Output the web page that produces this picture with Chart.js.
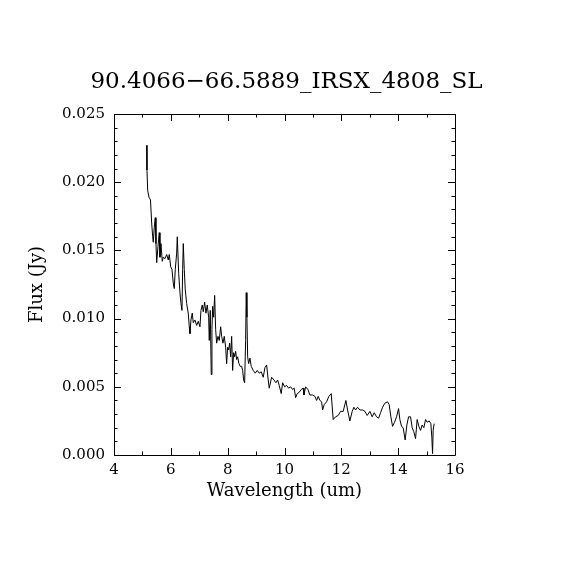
<!DOCTYPE html>
<html lang="en">
  <head>
    <meta charset="UTF-8">
    <title>90.4066-66.5889_IRSX_4808_SL</title>
    <style>
      html, body { margin: 0; padding: 0; background: #fff; }
      canvas { display: block; }
    </style>
  </head>
  <body>
    <canvas id="myChart" width="570" height="570"></canvas>

    <script src="https://cdn.jsdelivr.net/npm/chart.js"></script>
    <script>
      const TITLE = "90.4066\u221266.5889_IRSX_4808_SL";
      const X_LABEL = "Wavelength (um)";
      const Y_LABEL = "Flux (Jy)";

      // wavelength (um) and flux (Jy)
      const wavelength = [
        5.150, 5.160, 5.185, 5.231, 5.284, 5.326, 5.361, 5.382, 5.418, 5.453,
        5.477, 5.502, 5.548, 5.593, 5.618, 5.653, 5.699, 5.734, 5.794, 5.854,
        5.910, 5.945, 5.994, 6.040, 6.086, 6.121, 6.156, 6.205, 6.227, 6.276,
        6.321, 6.357, 6.392, 6.416, 6.438, 6.473, 6.508, 6.557, 6.613, 6.649,
        6.673, 6.708, 6.754, 6.789, 6.849, 6.909, 6.965, 7.025, 7.060, 7.106,
        7.141, 7.190, 7.236, 7.282, 7.331, 7.352, 7.387, 7.422, 7.447, 7.472,
        7.507, 7.542, 7.577, 7.612, 7.658, 7.704, 7.753, 7.788, 7.834, 7.880,
        7.929, 7.964, 7.999, 8.034, 8.070, 8.105, 8.140, 8.175, 8.210, 8.246,
        8.281, 8.316, 8.351, 8.397, 8.442, 8.492, 8.527, 8.562, 8.597, 8.632,
        8.653, 8.678, 8.703, 8.738, 8.784, 8.829, 8.900, 8.970, 9.040, 9.111,
        9.181, 9.252, 9.311, 9.371, 9.427, 9.463, 9.547, 9.628, 9.698, 9.758,
        9.814, 9.885, 9.934, 10.004, 10.075, 10.145, 10.215, 10.286, 10.342, 10.391,
        10.447, 10.518, 10.588, 10.658, 10.683, 10.743, 10.824, 10.894, 10.989, 11.070,
        11.130, 11.186, 11.246, 11.306, 11.341, 11.397, 11.482, 11.562, 11.643, 11.714,
        11.798, 11.890, 11.974, 12.066, 12.160, 12.220, 12.301, 12.382, 12.442, 12.502,
        12.572, 12.653, 12.748, 12.829, 12.910, 13.005, 13.085, 13.156, 13.240, 13.311,
        13.381, 13.451, 13.532, 13.627, 13.683, 13.743, 13.803, 13.873, 13.944, 14.014,
        14.060, 14.120, 14.176, 14.246, 14.306, 14.366, 14.436, 14.493, 14.552, 14.612,
        14.668, 14.728, 14.788, 14.844, 14.904, 14.964, 15.020, 15.090, 15.150, 15.185,
        15.210, 15.231, 15.266
      ];
      const flux = [
        0.0227, 0.0209, 0.0194, 0.0189, 0.0187, 0.0170, 0.0160, 0.0156, 0.0167, 0.0174,
        0.0155, 0.0141, 0.0153, 0.0163, 0.0145, 0.0155, 0.0142, 0.0145, 0.0144, 0.0147,
        0.0143, 0.0147, 0.0138, 0.0136, 0.0126, 0.0122, 0.0136, 0.0148, 0.0160, 0.0133,
        0.0119, 0.0111, 0.0106, 0.0136, 0.0155, 0.0136, 0.0121, 0.0111, 0.0104, 0.0094,
        0.0089, 0.0099, 0.0104, 0.0097, 0.0099, 0.0095, 0.0098, 0.0094, 0.0106, 0.0110,
        0.0105, 0.0112, 0.0104, 0.0110, 0.0101, 0.0084, 0.0106, 0.0059, 0.0092, 0.0109,
        0.0101, 0.0117, 0.0092, 0.0082, 0.0087, 0.0084, 0.0094, 0.0087, 0.0082, 0.0087,
        0.0079, 0.0067, 0.0079, 0.0077, 0.0082, 0.0072, 0.0087, 0.0062, 0.0075, 0.0072,
        0.0076, 0.0070, 0.0072, 0.0067, 0.0065, 0.0065, 0.0062, 0.0055, 0.0053, 0.0084,
        0.0119, 0.0101, 0.0072, 0.0067, 0.0071, 0.0065, 0.0062, 0.0060, 0.0062, 0.0060,
        0.0061, 0.0057, 0.0064, 0.0066, 0.0055, 0.0049, 0.0057, 0.0055, 0.0053, 0.0055,
        0.0051, 0.0045, 0.0053, 0.0050, 0.0051, 0.0049, 0.0050, 0.0048, 0.0049, 0.0042,
        0.0045, 0.0046, 0.0048, 0.0049, 0.0044, 0.0050, 0.0048, 0.0044, 0.0044, 0.0043,
        0.0040, 0.0043, 0.0040, 0.0039, 0.0033, 0.0037, 0.0039, 0.0043, 0.0045, 0.0026,
        0.0028, 0.0029, 0.0032, 0.0032, 0.0040, 0.0033, 0.0025, 0.0032, 0.0035, 0.0033,
        0.0035, 0.0033, 0.0033, 0.0032, 0.0029, 0.0032, 0.0028, 0.0031, 0.0028, 0.0027,
        0.0031, 0.0035, 0.0038, 0.0039, 0.0037, 0.0028, 0.0021, 0.0024, 0.0028, 0.0034,
        0.0026, 0.0021, 0.0020, 0.0011, 0.0022, 0.0028, 0.0028, 0.0020, 0.0017, 0.0012,
        0.0026, 0.0021, 0.0018, 0.0022, 0.0020, 0.0026, 0.0024, 0.0025, 0.0023, 0.0013,
        0.0001, 0.0018, 0.0023
      ];

      const X_MIN = 4, X_MAX = 16, X_STEP = 2, X_MINOR = 1;
      const Y_MIN = 0, Y_MAX = 0.025, Y_STEP = 0.005, Y_MINOR = 0.001;

      const SERIF = "'DejaVu Serif', 'Liberation Serif', serif";

      // IDL-style box with inward ticks on all four sides
      const frameTicks = {
        id: "frameTicks",
        afterDatasetsDraw(chart) {
          const { ctx, chartArea: a, scales: { x, y } } = chart;
          ctx.save();
          ctx.strokeStyle = "#000";
          ctx.lineWidth = 1;
          ctx.beginPath();
          ctx.rect(Math.round(a.left) + 0.5, Math.round(a.top) + 0.5,
                   Math.round(a.right - a.left), Math.round(a.bottom - a.top));
          const nx = Math.round((X_MAX - X_MIN) / X_MINOR);
          for (let i = 0; i <= nx; i++) {
            const v = X_MIN + i * X_MINOR;
            const px = Math.round(x.getPixelForValue(v)) + 0.5;
            const len = (i % Math.round(X_STEP / X_MINOR) === 0) ? 7 : 3.5;
            ctx.moveTo(px, a.bottom); ctx.lineTo(px, a.bottom - len);
            ctx.moveTo(px, a.top); ctx.lineTo(px, a.top + len);
          }
          const ny = Math.round((Y_MAX - Y_MIN) / Y_MINOR);
          for (let i = 0; i <= ny; i++) {
            const v = Y_MIN + i * Y_MINOR;
            const py = Math.round(y.getPixelForValue(v)) + 0.5;
            const len = (i % Math.round(Y_STEP / Y_MINOR) === 0) ? 7 : 3.5;
            ctx.moveTo(a.left, py); ctx.lineTo(a.left + len, py);
            ctx.moveTo(a.right, py); ctx.lineTo(a.right - len, py);
          }
          ctx.stroke();
          ctx.restore();
        }
      };

      const whiteBg = {
        id: "whiteBg",
        beforeDraw(chart) {
          const ctx = chart.ctx;
          ctx.save();
          ctx.fillStyle = "#fff";
          ctx.fillRect(0, 0, chart.width, chart.height);
          ctx.restore();
        }
      };

      document.addEventListener("DOMContentLoaded", function () {
        Chart.defaults.color = "#000";
        Chart.defaults.font.family = SERIF;

        const points = wavelength.map((w, i) => ({ x: w, y: flux[i] }));
        const ctx = document.getElementById("myChart").getContext("2d");
        new Chart(ctx, {
          type: "scatter",
          data: {
            datasets: [{
              data: points,
              showLine: true,
              borderColor: "#000",
              borderWidth: 1,
              pointRadius: 0,
              tension: 0,
              fill: false
            }]
          },
          options: {
            responsive: false,
            animation: false,
            layout: { padding: { left: 23, right: 20, top: 0, bottom: 65 } },
            plugins: {
              legend: { display: false },
              tooltip: { enabled: false },
              title: {
                display: true,
                text: TITLE,
                font: { family: SERIF, size: 23, weight: "normal" },
                padding: { top: 68, bottom: 18.4 }
              }
            },
            scales: {
              x: {
                type: "linear",
                min: X_MIN,
                max: X_MAX,
                grid: { display: false, drawTicks: false },
                border: { display: false },
                ticks: {
                  stepSize: X_STEP,
                  padding: 6,
                  font: { size: 15 },
                  callback: (v) => String(v)
                },
                title: {
                  display: true,
                  text: X_LABEL,
                  font: { size: 18 },
                  padding: { top: 4, bottom: 3 }
                },
                afterFit(scale) { scale.height = 50; }
              },
              y: {
                type: "linear",
                min: Y_MIN,
                max: Y_MAX,
                grid: { display: false, drawTicks: false },
                border: { display: false },
                ticks: {
                  stepSize: Y_STEP,
                  padding: 9,
                  font: { size: 15 },
                  callback: (v) => v.toFixed(3)
                },
                title: {
                  display: true,
                  text: Y_LABEL,
                  font: { size: 18 },
                  padding: { top: 4, bottom: 4 }
                },
                afterFit(scale) { scale.width = 91; }
              },
              // empty right-hand axis so the plot box sits where the original has it
              y2: {
                type: "linear",
                position: "right",
                min: Y_MIN,
                max: Y_MAX,
                grid: { display: false, drawTicks: false },
                border: { display: false },
                ticks: { display: false },
                afterFit(scale) { scale.width = 95; }
              }
            }
          },
          plugins: [whiteBg, frameTicks]
        });
      });
    </script>
  </body>
</html>
